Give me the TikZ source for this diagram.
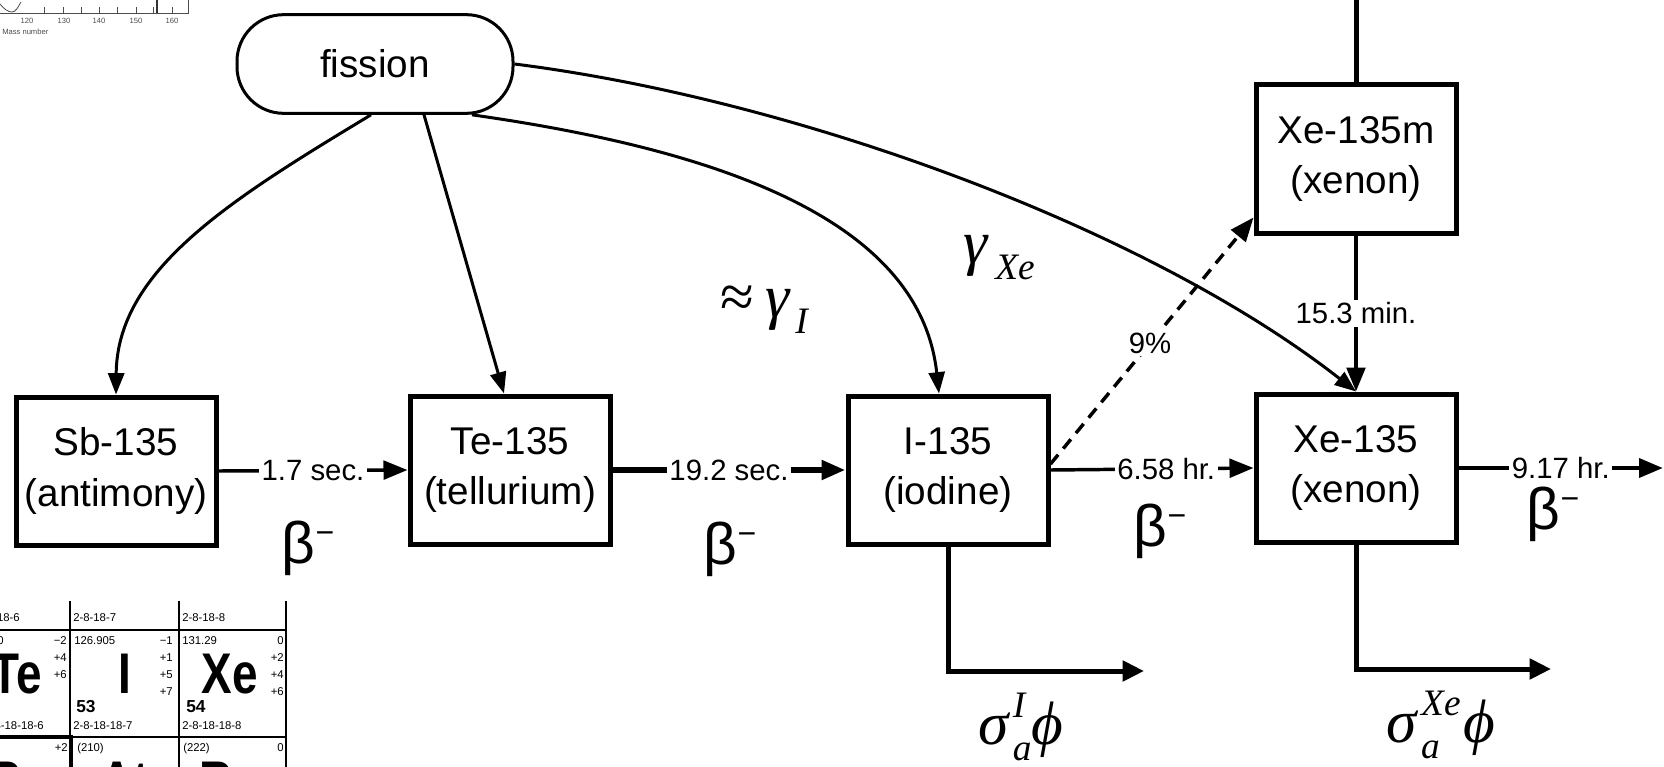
\documentclass[tikz,border=0pt]{standalone}
\usepackage{fontspec}
\setmainfont{Liberation Sans}
\newfontfamily\mathserif{Liberation Serif}
\usepackage{graphicx}
\usetikzlibrary{arrows.meta,calc}

\newcommand{\idx}[1]{{\fontsize{28}{30}\selectfont\itshape #1}}
\newcommand{\betaminus}{β\raisebox{15pt}{\fontsize{24}{24}\selectfont −}}

\tikzset{
  isotope/.style={draw,line width=3.75pt,minimum width=150pt,minimum height=111pt,inner sep=0pt,align=center,font=\fontsize{29}{38}\selectfont},
  fissionbox/.style={draw,line width=2.25pt,rounded corners=35pt,minimum width=207pt,minimum height=74pt,font=\fontsize{29}{34}\selectfont},
  yield/.style={line width=2.25pt,-{Triangle[length=16pt,width=12pt]}},
  decay/.style={line width=2.6pt,-{Triangle[length=18pt,width=14pt]}},
  halflife/.style={fill=white,inner sep=2pt,font=\fontsize{22}{24}\selectfont},
  beta/.style={inner sep=0pt,font=\fontsize{44}{46}\selectfont},
  absorb/.style={line width=3.75pt,-{Triangle[length=16pt,width=15pt]}},
  rate/.style={inner sep=0pt,font=\fontsize{46}{50}\selectfont\mathserif\itshape},
  ptsmall/.style={inner sep=0pt,font=\fontsize{8.5}{9}\selectfont},
  ptnum/.style={inner sep=0pt,font=\fontsize{13}{14}\selectfont\bfseries},
  ptsymb/.style={inner sep=0pt,font=\fontsize{43}{46}\selectfont\bfseries},
  axislabel/.style={inner sep=0pt,text=black!70,font=\fontsize{5.7}{6}\selectfont},
}

\begin{document}
\begin{tikzpicture}[x=0.75pt,y=0.75pt,yscale=-1,xscale=1]
\useasboundingbox (0,0) rectangle (1664,767);

%Shape: Rounded Rect
\draw (375,64) node [fissionbox] (fis) {fission};
%Shape: Rectangle
\draw (116,471) node [isotope] (sb) {Sb-135\\(antimony)};
%Shape: Rectangle
\draw (510,470) node [isotope] (te) {Te-135\\(tellurium)};
%Shape: Rectangle
\draw (948,470) node [isotope] (io) {I-135\\(iodine)};
%Shape: Rectangle
\draw (1356,468) node [isotope] (xe) {Xe-135\\(xenon)};
%Shape: Rectangle
\draw (1356,159) node [isotope] (xem) {Xe-135m\\(xenon)};

%Curve Lines
\draw [yield] ($(fis.south)+(-4,0)$) .. controls (230,200) and (117,270) .. (sb.north);
%Straight Lines
\draw [yield] ($(fis.south)+(49,0)$) -- ($(te.north)+(-6,0)$);
%Curve Lines
\draw [yield] ($(fis.south)+(97,0)$) .. controls (720,150) and (920,220) .. ($(io.north)+(-9,0)$);
%Curve Lines
\draw [yield] (fis.east) .. controls (800,100) and (1150,230) .. (xe.north);

%Straight Lines
\draw [decay] (sb.east) -- node [halflife] (t1) {1.7 sec.} (te.west);
%Straight Lines
\draw [decay,line width=4.5pt] (te.east) -- node [halflife] (t2) {19.2 sec.} (io.west);
%Straight Lines
\draw [decay] (io.east) -- node [halflife,pos=0.57] (t3) {6.58 hr.} (xe.west);
%Straight Lines
\coordinate (xeout) at (1663,468);
\draw [decay,line width=3.5pt] (xe.east) -- node [halflife] (t4) {9.17 hr.} (xeout);
%Straight Lines
\draw [decay] (xem.south) -- node [halflife] (t5) {15.3 min.} (xe.north);
%Straight Lines
\coordinate (xetop) at (1356,0);
\draw [line width=3.75pt] (xem.north) -- (xetop);
%Straight Lines
\draw [decay,dash pattern=on 9pt off 6pt] ($(io.east)+(0,-6)$) -- node [halflife,pos=0.49] (t6) {9\%} ($(xem.south west)+(0,-18)$);

%Straight Lines
\coordinate (iabs) at (1144,671);
\draw [absorb] (io.south) |- (iabs);
%Straight Lines
\coordinate (xabs) at (1551,669);
\draw [absorb] (xe.south) |- (xabs);

% Text Node
\draw (308,548) node [beta] (b1) {\betaminus};
% Text Node
\draw (730,549) node [beta] (b2) {\betaminus};
% Text Node
\draw (1160,531) node [beta] (b3) {\betaminus};
% Text Node
\draw (1553,514) node [beta] (b4) {\betaminus};
% Text Node
\draw (764,310) node [rate] (gi) {{\upshape ≈}\hspace{9pt}γ\hspace{4pt}\raisebox{-12pt}{\idx{I}}};
% Text Node
\draw (999,258) node [rate] (gx) {γ\hspace{6pt}\raisebox{-12pt}{\idx{Xe}}};
% Text Node
\draw (1021,727) node [rate] (si) {σ\hspace{3pt}\rlap{\raisebox{20pt}{\idx{I}}}\raisebox{-12pt}{\idx{a}}ϕ};
% Text Node
\draw (1441,725) node [rate] (sx) {σ\hspace{3pt}\rlap{\raisebox{-12pt}{\idx{a}}}\raisebox{20pt}{\idx{Xe}}\hspace{2pt}ϕ};

%Mass number axis piece
\draw [black!70,line width=0.6pt] (0,13) -- (188,13) -- (188,0);
\foreach \x in {44,63,81,99,117,136,153,172}
  \draw [black!70,line width=0.5pt] (\x,13) -- (\x,7);
\foreach \x/\m in {27/120,64/130,99/140,136/150,172/160}
  \draw (\x,21) node [axislabel] (m\m) {\m};
\draw (2,32) node [axislabel,anchor=west] (mass) {Mass number};
\draw [black!70,line width=0.6pt] (0,4) .. controls (4,9) and (8,12) .. (12,12) .. controls (16,12) and (18,7) .. (21,2);
\draw [black!80,line width=0.8pt] (157,0) -- (157,13);

%Periodic table piece
\begin{scope}
\clip (0,601) rectangle (290,767);
\draw [line width=0.9pt] (70,601) -- (70,767) (179,601) -- (179,767) (0,630) -- (287,630) (0,737) -- (287,737);
\draw [line width=1.5pt] (286,601) -- (286,767);
\draw [line width=3pt] (0,737) -- (71,737) -- (71,767);
% Text Node
\draw (20,618) node [ptsmall,anchor=east] (se) {2-8-18-6};
\draw (73,618) node [ptsmall,anchor=west] (br) {2-8-18-7};
\draw (182,618) node [ptsmall,anchor=west] (kr) {2-8-18-8};
% Text Node
\draw (4,641) node [ptsmall,anchor=east] (tew) {127.60};
\draw (42,674) node [ptsymb,anchor=east] (tes) {\scalebox{0.8}[1]{Te}};
\draw (44,726) node [ptsmall,anchor=east] (tec) {2-8-18-18-6};
\foreach \y/\s [count=\i] in {641/−2,658/+4,675/+6}
  \draw (67,\y) node [ptsmall,anchor=east] (teo\i) {\s};
% Text Node
\draw (74,641) node [ptsmall,anchor=west] (iw) {126.905};
\draw (125,674) node [ptsymb] (is) {\scalebox{0.8}[1]{I}};
\draw (76,707) node [ptnum,anchor=west] (in) {53};
\draw (73,726) node [ptsmall,anchor=west] (ic) {2-8-18-18-7};
\foreach \y/\s [count=\i] in {641/−1,658/+1,675/+5,692/+7}
  \draw (173,\y) node [ptsmall,anchor=east] (io\i) {\s};
% Text Node
\draw (182,641) node [ptsmall,anchor=west] (xw) {131.29};
\draw (230,674) node [ptsymb] (xs) {\scalebox{0.8}[1]{Xe}};
\draw (186,707) node [ptnum,anchor=west] (xn) {54};
\draw (182,726) node [ptsmall,anchor=west] (xc) {2-8-18-18-8};
\foreach \y/\s [count=\i] in {641/0,658/+2,675/+4,692/+6}
  \draw (284,\y) node [ptsmall,anchor=east] (xo\i) {\s};
% Text Node
\draw (68,748) node [ptsmall,anchor=east] (poo) {+2};
\draw (77,749) node [ptsmall,anchor=west] (atw) {(210)};
\draw (183,749) node [ptsmall,anchor=west] (rnw) {(222)};
\draw (284,748) node [ptsmall,anchor=east] (rno) {0};
\draw (20,782) node [ptsymb] (pos) {\scalebox{0.8}[1]{Po}};
\draw (125,782) node [ptsymb] (ats) {\scalebox{0.8}[1]{At}};
\draw (230,782) node [ptsymb] (rns) {\scalebox{0.8}[1]{Rn}};
\end{scope}

\end{tikzpicture}
\end{document}
